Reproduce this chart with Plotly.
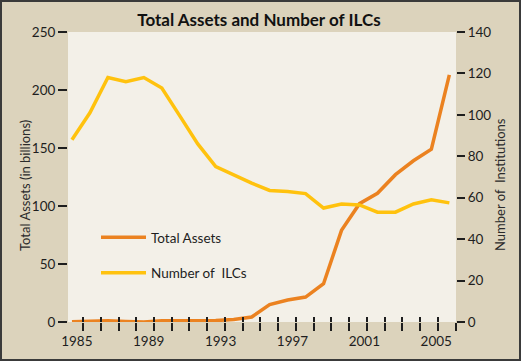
import plotly.graph_objects as go

years = list(range(1985, 2007))
total_assets = [0.3, 1.0, 1.0, 0.5, 0.0, 1.0, 1.2, 1.2, 1.2, 2.2, 4.3, 15, 19, 21.5,
                33, 79, 102, 111, 127, 139, 149, 213]
num_ilcs = [88, 101, 118, 116, 118, 113, 99.5, 86, 75, 71, 67, 63.5, 63, 62,
            55, 57, 56.5, 53, 53, 57, 59, 57.5]
label_years = [1985, 1989, 1993, 1997, 2001, 2005]
left_ticks = [0, 50, 100, 150, 200, 250]
right_ticks = [0, 20, 40, 60, 80, 100, 120, 140]

ORANGE = "#EB8220"
YELLOW = "#FFC20E"
PAPER = "#DCD3BC"
PLOT = "#F3F0E8"
INK = "#1E1E1E"
FONT = "Lato"

W, H = 521, 361
ML, MR, MT, MB = 68, 65, 32, 39
PW, PH = W - ML - MR, H - MT - MB

fig = go.Figure()
fig.add_trace(go.Scatter(x=years, y=total_assets, name="Total Assets", mode="lines",
                         line=dict(color=ORANGE, width=3.5), legendgroup="a",
                         yaxis="y"))
fig.add_trace(go.Scatter(x=years, y=num_ilcs, name="Number of  ILCs", mode="lines",
                         line=dict(color=YELLOW, width=3.5), legendgroup="b",
                         yaxis="y2"))

xr = [1984.78, 2006.37]
fig.update_layout(
    width=W, height=H,
    margin=dict(l=ML, r=MR, t=MT, b=MB, pad=0, autoexpand=False),
    paper_bgcolor=PAPER, plot_bgcolor=PLOT,
    font=dict(family=FONT, size=13, color=INK),
    title=dict(text="<b>Total Assets and Number of ILCs</b>", x=0.497, xanchor="center",
               y=1 - 20 / H, yanchor="middle", yref="container",
               font=dict(family=FONT, size=17, color="#111111")),
    showlegend=True,
    legend=dict(x=(96 - ML) / PW, y=1 - (222 - MT) / PH, xanchor="left", yanchor="top",
                bgcolor="rgba(0,0,0,0)", borderwidth=0, tracegroupgap=15,
                traceorder="grouped", font=dict(family=FONT, size=13.5, color=INK),
                itemwidth=45),
    xaxis=dict(range=xr, tickmode="array",
               tickvals=[y + 0.27 for y in label_years],
               ticktext=[str(y) for y in label_years],
               ticks="", showgrid=False, zeroline=False, showline=False,
               ticklabelstandoff=9,
               tickfont=dict(size=13.5, color=INK),
               minor=dict(tickmode="linear", tick0=1984.63, dtick=0.987,
                          ticks="outside", ticklen=8, tickwidth=1.5, tickcolor=INK,
                          showgrid=False)),
    xaxis2=dict(range=xr, overlaying="x", anchor="y", showticklabels=False,
                tickmode="linear", tick0=1984.63, dtick=0.987,
                ticks="inside", ticklen=5, tickwidth=1.5, tickcolor=INK,
                showgrid=False, zeroline=False, showline=False),
    yaxis=dict(range=[0, 250], tickmode="array", tickvals=left_ticks,
               ticks="outside", ticklen=9, tickwidth=1.5, tickcolor=INK,
               showgrid=False, zeroline=False, showline=False,
               tickfont=dict(size=13.5, color=INK)),
    yaxis2=dict(range=[0, 140], tickmode="array", tickvals=right_ticks,
                overlaying="y", side="right", anchor="x",
                ticks="outside", ticklen=8, tickwidth=1.5, tickcolor=INK,
                showgrid=False, zeroline=False, showline=False,
                tickfont=dict(size=13.5, color=INK)),
    annotations=[
        dict(text="Total Assets (in billions)", textangle=-90, xref="paper", yref="paper",
             x=(25 - ML) / PW, y=1 - (186 - MT) / PH, xanchor="center", yanchor="middle",
             showarrow=False, font=dict(family=FONT, size=13, color="#2A2A2A")),
        dict(text="Number of  Institutions", textangle=-90, xref="paper", yref="paper",
             x=(500 - ML) / PW, y=1 - (185 - MT) / PH, xanchor="center", yanchor="middle",
             showarrow=False, font=dict(family=FONT, size=13, color="#2A2A2A")),
    ],
    shapes=[
        dict(type="rect", xref="paper", yref="paper", layer="above",
             x0=-(ML - 1) / PW, x1=1 + (MR - 1) / PW,
             y0=-(MB - 1) / PH, y1=1 + (MT - 1) / PH,
             line=dict(color="#3A3A3A", width=2), fillcolor="rgba(0,0,0,0)"),
    ],
)
fig.add_trace(go.Scatter(x=[years[0]], y=[0], xaxis="x2", yaxis="y", mode="lines",
                         showlegend=False, hoverinfo="skip", line=dict(width=0)))

fig.write_html("out.html", config={"displayModeBar": False},
               post_script="document.body.style.margin='0';document.body.style.padding='0';")
